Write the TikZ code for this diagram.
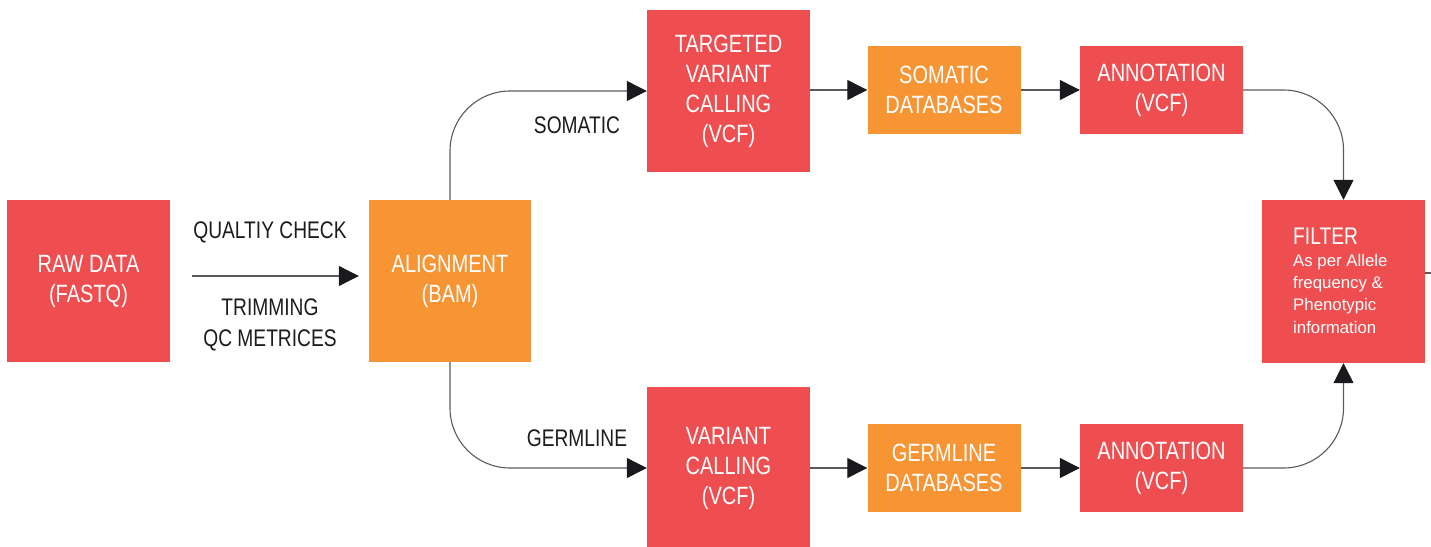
\documentclass[tikz,border=0pt]{standalone}
\usepackage{fontspec}
\setmainfont{Liberation Sans}[FakeStretch=0.8]
\newfontfamily\notefont{Liberation Sans}
\usetikzlibrary{arrows.meta}

\definecolor{boxred}{HTML}{EF4E50}
\definecolor{boxorange}{HTML}{F79433}
\definecolor{linegray}{HTML}{5A5A5A}
\definecolor{tipblack}{HTML}{1A1A1E}
\definecolor{labelblack}{HTML}{1C1C1E}

\tikzset{
  stage/.style={inner sep=0pt, text=white, align=center,
    font=\fontsize{25}{30}\selectfont},
  bigstage/.style={stage, minimum width=163pt, minimum height=162pt},
  smallstage/.style={stage, minimum width=153pt, minimum height=88pt},
  redbox/.style={fill=boxred},
  orangebox/.style={fill=boxorange},
  conn/.style={draw=linegray, line width=1.1pt,
    -{Triangle[length=20pt,width=20pt,color=tipblack]}},
  plainline/.style={draw=linegray, line width=1.1pt},
  steplabel/.style={text=labelblack, align=center, inner sep=0pt,
    font=\fontsize{24}{30.5}\selectfont},
}

\begin{document}
\begin{tikzpicture}[x=1pt,y=-1pt]
\useasboundingbox (0,0) rectangle (1431,546);

% pipeline stages
\node[bigstage, redbox]    (raw)   at (88.5,281)  {RAW DATA\\(FASTQ)};
\node[bigstage, orangebox, minimum width=162pt] (align) at (450,281) {ALIGNMENT\\(BAM)};
\node[bigstage, redbox]    (tvc)   at (728.5,91)  {TARGETED\\VARIANT\\CALLING\\(VCF)};
\node[smallstage, orangebox] (sdb) at (944,90)    {SOMATIC\\DATABASES};
\node[smallstage, redbox, minimum width=163pt] (ann1) at (1161.5,90) {ANNOTATION\\(VCF)};
\node[bigstage, redbox]    (vc)    at (728.5,468) {VARIANT\\CALLING\\(VCF)};
\node[smallstage, orangebox] (gdb) at (944,468)   {GERMLINE\\DATABASES};
\node[smallstage, redbox, minimum width=163pt] (ann2) at (1161.5,468) {ANNOTATION\\(VCF)};
\node[bigstage, redbox, minimum height=163pt] (filter) at (1343.5,281.5) {};

% filter description
\node[anchor=base west, inner sep=0pt, text=white,
      font=\fontsize{24}{28}\selectfont] (ftitle) at (1293,244) {FILTER};
\node[anchor=north west, inner sep=0pt, text=white, align=left,
      font=\notefont\fontsize{16.8}{22.3}\selectfont] (fnote) at (1293,254)
  {As per Allele\\frequency \&\\Phenotypic\\information};

% quality control step
\draw[conn, shorten <=22pt, shorten >=10pt]
  ([yshift=5pt]raw.east) -- ([yshift=5pt]align.west);
\node[steplabel, anchor=base] (qc) at (270,238) {QUALTIY CHECK};
\node[steplabel] (trim) at (270,325) {TRIMMING\\QC METRICES};

% somatic branch
\draw[conn, rounded corners=60pt] (align.north) |- (tvc.west);
\node[steplabel, anchor=base] (som) at (577,133) {SOMATIC};
\draw[conn] (tvc.east |- sdb.west) -- (sdb.west);
\draw[conn] (sdb.east) -- (ann1.west);
\draw[conn, rounded corners=60pt] (ann1.east) -| (filter.north);

% germline branch
\draw[conn, rounded corners=60pt] (align.south) |- (vc.west);
\node[steplabel, anchor=base] (germ) at (577,446) {GERMLINE};
\draw[conn] (vc.east) -- (gdb.west);
\draw[conn] (gdb.east) -- (ann2.west);
\draw[conn, rounded corners=60pt] (ann2.east) -| (filter.south);

% output leaving the filter
\coordinate (out) at (1431,273);
\draw[plainline] (filter.east |- out) -- (out);
\end{tikzpicture}
\end{document}
